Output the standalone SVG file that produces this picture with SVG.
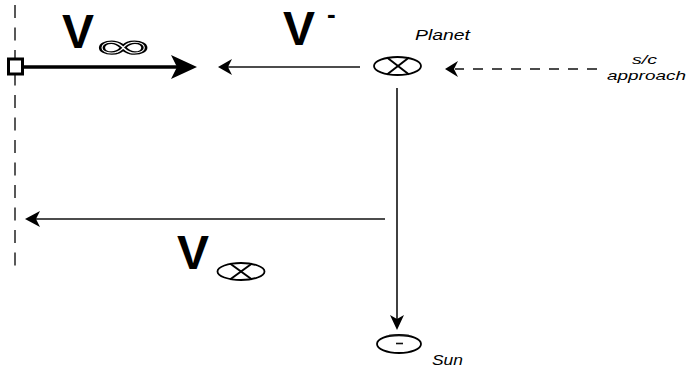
<svg xmlns="http://www.w3.org/2000/svg" width="688" height="370" viewBox="0 0 688 370">
<style>
.big{font-family:"Liberation Sans",Arial,sans-serif;font-weight:bold;font-size:48px;fill:#000}
.lbl{font-family:"Liberation Sans",Arial,sans-serif;font-style:italic;font-size:15px;fill:#000}
.sm{font-size:13px}
.thin{stroke:#111;stroke-width:1.6;fill:none}
.sym{stroke:#000;stroke-width:1.8;fill:#fff}
.x{stroke:#000;stroke-width:2;fill:none}
</style>
<rect width="688" height="370" fill="#fff"/>
<g id="axis">
<line x1="15" y1="5" x2="15" y2="266" stroke="#222" stroke-width="1.5" stroke-dasharray="13 9.5"/>
</g>
<g id="connectors">
<line x1="23" y1="67" x2="180" y2="67" stroke="#000" stroke-width="3.5"/>
<polygon points="197,67 171,55 177,67 171,79" fill="#000"/>
<line x1="360" y1="67" x2="228" y2="67" class="thin"/>
<polygon points="218,67 232,59 228,67 232,75" fill="#000"/>
<line x1="597" y1="69" x2="455" y2="69" stroke="#111" stroke-width="1.6" stroke-dasharray="10 9"/>
<polygon points="445,69 458,61 454,69 458,77" fill="#000"/>
<line x1="397" y1="88" x2="397" y2="322" class="thin"/>
<polygon points="397,330 390,315 397,319 404,315" fill="#000"/>
<line x1="385" y1="219" x2="34" y2="219" class="thin"/>
<polygon points="25,219 40,211 36,219 40,227" fill="#000"/>
</g>
<g id="origin">
<rect x="8.5" y="59" width="14" height="15" fill="#fff" stroke="#000" stroke-width="3"/>
</g>
<g id="v-inf">
<text class="big" x="62" y="48">V</text>
<g transform="translate(92,58) scale(1,0.78)">
<text x="0" y="0" font-family="'DejaVu Sans',sans-serif" font-size="44" fill="#fff" stroke="#000" stroke-width="1.5" textLength="62" lengthAdjust="spacingAndGlyphs">∞</text>
</g>
</g>
<g id="v-minus">
<text class="big" x="283" y="45">V</text>
<text x="327" y="23" font-family="'Liberation Sans',Arial,sans-serif" font-weight="bold" font-size="26">-</text>
</g>
<g id="planet">
<ellipse cx="397.5" cy="66" rx="23.5" ry="9" class="sym"/>
<line x1="387" y1="57.5" x2="409" y2="74.5" class="x"/>
<line x1="387" y1="74.5" x2="409" y2="57.5" class="x"/>
<text class="lbl" x="415" y="40" textLength="55" lengthAdjust="spacingAndGlyphs">Planet</text>
</g>
<g id="sc-approach">
<text class="lbl sm" x="632" y="64" textLength="25" lengthAdjust="spacingAndGlyphs">s/c</text>
<text class="lbl sm" x="607" y="80" textLength="79" lengthAdjust="spacingAndGlyphs">approach</text>
</g>
<g id="v-planet">
<text class="big" x="177" y="269">V</text>
<ellipse cx="241" cy="271.5" rx="23.5" ry="8.5" class="sym"/>
<line x1="230" y1="263.5" x2="252" y2="279.5" class="x"/>
<line x1="230" y1="279.5" x2="252" y2="263.5" class="x"/>
</g>
<g id="sun">
<ellipse cx="399" cy="344" rx="22" ry="9" class="sym"/>
<line x1="389" y1="335.5" x2="409" y2="335.5" class="thin"/>
<line x1="396" y1="343.5" x2="403" y2="343.5" class="thin"/>
<text class="lbl" x="432" y="365" textLength="31" lengthAdjust="spacingAndGlyphs">Sun</text>
</g>
</svg>
